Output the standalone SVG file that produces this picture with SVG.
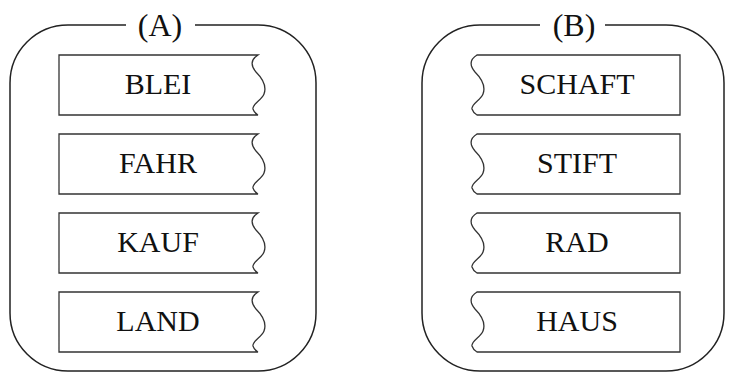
<svg xmlns="http://www.w3.org/2000/svg" width="730" height="373" viewBox="0 0 730 373">
<defs>
<style>
.frame{fill:none;stroke:#222;stroke-width:1.5}
.box{fill:#fff;stroke:#333;stroke-width:1.3}
.lbl{font-family:"Liberation Serif","Times New Roman",serif;font-size:30px;fill:#111;text-anchor:middle}
.ttl{font-size:32px}
</style>
</defs>
<rect width="730" height="373" fill="#fff"/>
<g id="panelA">
<path class="frame" d="M126,25 L68,25 A58,58 0 0 0 10,83 L10,313 A58,58 0 0 0 68,371 L258,371 A58,58 0 0 0 316,313 L316,83 A58,58 0 0 0 258,25 L195,25"/>
<text class="lbl ttl" x="160" y="36">(A)</text>
</g>
<g id="panelB">
<path class="frame" d="M540,25 L480,25 A58,58 0 0 0 422,83 L422,313 A58,58 0 0 0 480,371 L666,371 A58,58 0 0 0 724,313 L724,83 A58,58 0 0 0 666,25 L605,25"/>
<text class="lbl ttl" x="574" y="36">(B)</text>
</g>
<g id="blei">
<path class="box" d="M59,55 L258,55 C250,60 251,66 256,72 C263,79 267,86 264,94 C262,100 252,104 253,109 C254,112 256,114 258,115 L59,115 Z"/>
<text class="lbl" x="158" y="94">BLEI</text>
</g>
<g id="fahr">
<path class="box" d="M59,134 L258,134 C250,139 251,145 256,151 C263,158 267,165 264,173 C262,179 252,183 253,188 C254,191 256,193 258,194 L59,194 Z"/>
<text class="lbl" x="158" y="173">FAHR</text>
</g>
<g id="kauf">
<path class="box" d="M59,213 L258,213 C250,218 251,224 256,230 C263,237 267,244 264,252 C262,258 252,262 253,267 C254,270 256,272 258,273 L59,273 Z"/>
<text class="lbl" x="158" y="252">KAUF</text>
</g>
<g id="land">
<path class="box" d="M59,292 L258,292 C250,297 251,303 256,309 C263,316 267,323 264,331 C262,337 252,341 253,346 C254,349 256,351 258,352 L59,352 Z"/>
<text class="lbl" x="158" y="331">LAND</text>
</g>
<g id="schaft">
<path class="box" d="M680,55 L477,55 C469,60 470,66 475,72 C482,79 486,86 483,94 C481,100 471,104 472,109 C473,112 475,114 477,115 L680,115 Z"/>
<text class="lbl" x="577" y="94">SCHAFT</text>
</g>
<g id="stift">
<path class="box" d="M680,134 L477,134 C469,139 470,145 475,151 C482,158 486,165 483,173 C481,179 471,183 472,188 C473,191 475,193 477,194 L680,194 Z"/>
<text class="lbl" x="577" y="173">STIFT</text>
</g>
<g id="rad">
<path class="box" d="M680,213 L477,213 C469,218 470,224 475,230 C482,237 486,244 483,252 C481,258 471,262 472,267 C473,270 475,272 477,273 L680,273 Z"/>
<text class="lbl" x="577" y="252">RAD</text>
</g>
<g id="haus">
<path class="box" d="M680,292 L477,292 C469,297 470,303 475,309 C482,316 486,323 483,331 C481,337 471,341 472,346 C473,349 475,351 477,352 L680,352 Z"/>
<text class="lbl" x="577" y="331">HAUS</text>
</g>
<g id="connectors"></g>
</svg>
